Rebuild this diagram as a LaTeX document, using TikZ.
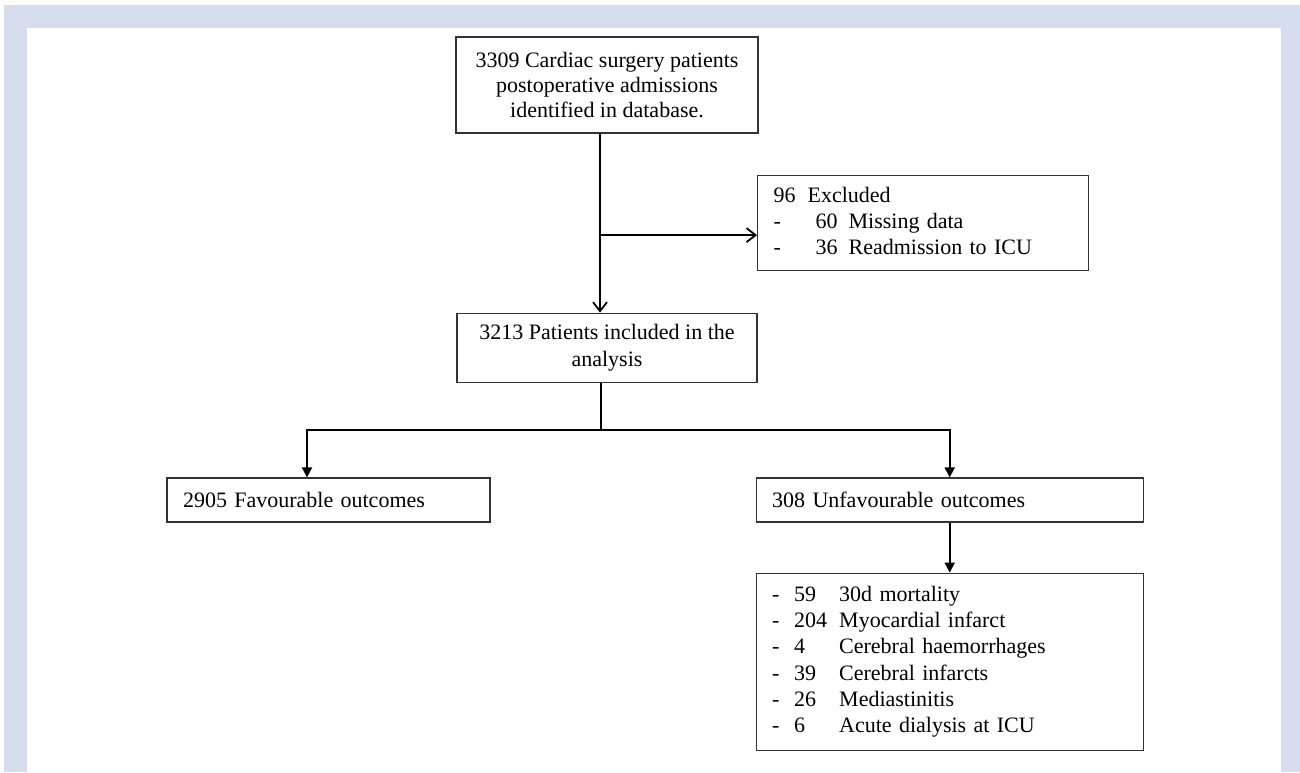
\documentclass[tikz,border=0pt]{standalone}
\usepackage{fontspec}
\setmainfont{Liberation Serif}
\usepackage{tikz}
\usetikzlibrary{calc}
\usetikzlibrary{arrows.meta,positioning}
\definecolor{framebl}{RGB}{212,220,238}
\renewcommand{\arraystretch}{1.05}
\tikzset{
  box/.style={draw=black!80, line width=0.6pt, inner xsep=8pt, inner ysep=0pt,
    font=\fontsize{11}{12.5}\selectfont},
  openarr/.style={line width=0.9pt, -{Straight Barb[length=4.5pt,width=7pt]}},
  fillarr/.style={line width=0.9pt, -{Triangle[length=5pt,width=5pt]}},
}

\begin{document}
\begin{tikzpicture}[x=1pt,y=-1pt]
          \useasboundingbox (0,0) rectangle (650,386);
          \fill[white] (0,0) rectangle (650,386);
          \fill[framebl] (2,2.5) rectangle (650,386);
          \fill[white] (13.5,14) rectangle (640.5,386);
          % boxes
          \node[box, minimum width=151pt, minimum height=48pt, align=center] (adm) at (303.5,42.5)
            {3309 Cardiac surgery patients\\ postoperative admissions\\ identified in database.};
          \node[box, minimum width=150pt, minimum height=34.5pt, align=center, below=89.5pt of adm] (incl)
            {3213 Patients included in the\\[1pt] analysis};
          \node[box, minimum width=165.5pt, minimum height=47.5pt, text width=149.5pt, align=left,
            anchor=north west] (excl) at (378.5,87.5) {%
            \begin{tabular}{@{}p{21pt}@{}p{16.5pt}@{}l@{}}
              \multicolumn{3}{@{}l@{}}{96\hspace{6pt}Excluded}\\
              - & 60 & Missing data\\
              - & 36 & Readmission to ICU
            \end{tabular}};
          \node[box, minimum width=161.5pt, minimum height=22pt, text width=145.5pt, align=left] (fav)
            at (164.25,250) {2905 Favourable outcomes};
          \node[box, minimum width=193.5pt, minimum height=22pt, text width=177.5pt, align=left,
            right=132.5pt of fav] (unfav) {308 Unfavourable outcomes};
          \node[box, minimum width=193.5pt, minimum height=88.5pt, text width=177.5pt, align=left,
            below=25pt of unfav] (list) {%
            \begin{tabular}{@{}p{11pt}@{}p{22.5pt}@{}l@{}}
              - & 59 & 30d mortality\\
              - & 204 & Myocardial infarct\\
              - & 4 & Cerebral haemorrhages\\
              - & 39 & Cerebral infarcts\\
              - & 26 & Mediastinitis\\
              - & 6 & Acute dialysis at ICU
            \end{tabular}};
          % connectors
          \coordinate (trunk) at ([xshift=-3.5pt]adm.south);
          \coordinate (brk) at ([yshift=-6pt]trunk |- excl.west);
          \coordinate (split) at ([xshift=-3pt,yshift=-23.5pt]incl.south);
          \draw[openarr] (trunk) -- (trunk |- incl.north);
          \draw[openarr] (brk) -- (brk -| excl.west);
          \draw[line width=0.9pt] (split |- incl.south) -- (split);
          \draw[fillarr] (split) -| ([xshift=-10.75pt]fav.north);
          \draw[fillarr] (split) -| (unfav.north);
          \draw[fillarr] (unfav.south) -- (list.north);
        \end{tikzpicture}
\end{document}
